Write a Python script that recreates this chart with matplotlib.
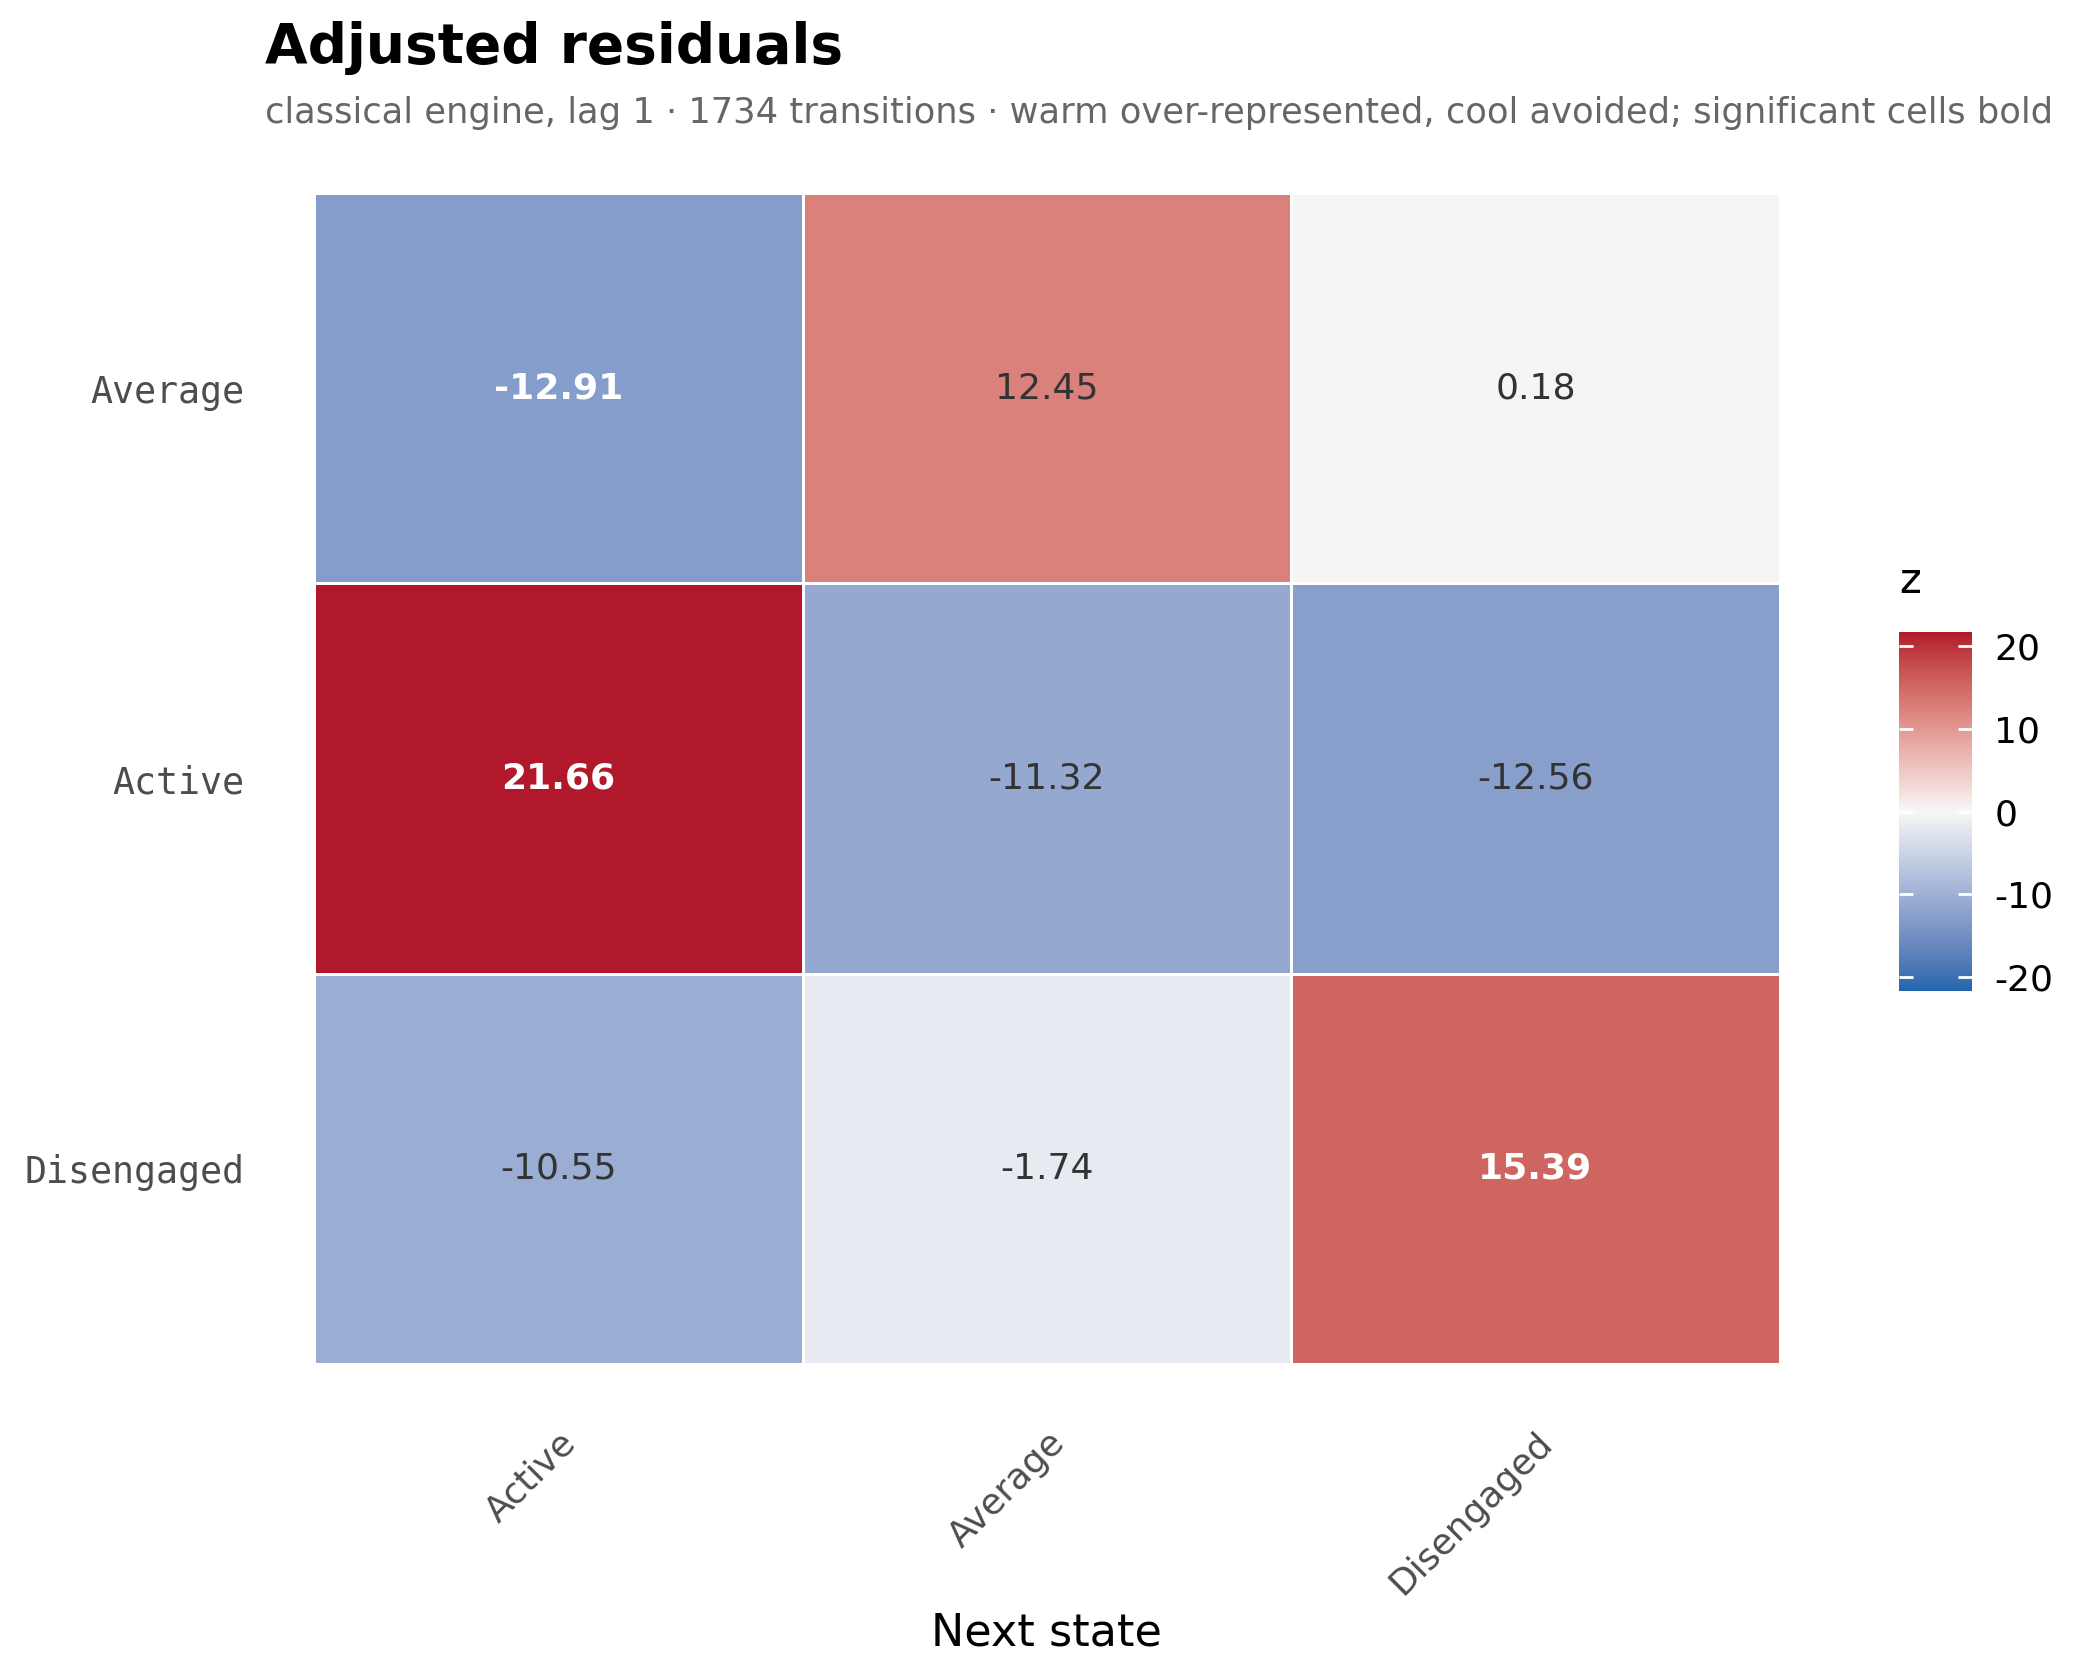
import matplotlib
matplotlib.use("Agg")
import matplotlib.pyplot as plt
from matplotlib.colors import ListedColormap, Normalize
import numpy as np

plt.rcParams["axes.unicode_minus"] = False

# data
from_states = ["Average", "Active", "Disengaged"]
next_states = ["Active", "Average", "Disengaged"]
z_values = [
    [-12.91, 12.45, 0.18],
    [21.66, -11.32, -12.56],
    [-10.55, -1.74, 15.39],
]
significant = [
    [True, False, False],
    [True, False, False],
    [False, False, True],
]
cbar_ticks = [-20, -10, 0, 10, 20]

title = "Adjusted residuals"
subtitle = ("classical engine, lag 1 \u00b7 1734 transitions \u00b7 warm over-represented, "
            "cool avoided; significant cells bold")


# diverging palette interpolated in Lab space (low / mid / high)
def hex_rgb(h):
    h = h.lstrip("#")
    return np.array([int(h[i:i + 2], 16) / 255 for i in (0, 2, 4)])


def rgb_to_lab(rgb):
    c = np.where(rgb > 0.04045, ((rgb + 0.055) / 1.055) ** 2.4, rgb / 12.92)
    m = np.array([[0.4124564, 0.3575761, 0.1804375],
                  [0.2126729, 0.7151522, 0.0721750],
                  [0.0193339, 0.1191920, 0.9503041]])
    xyz = m @ c / np.array([0.95047, 1.0, 1.08883])
    f = np.where(xyz > 0.008856, np.cbrt(xyz), 7.787 * xyz + 16 / 116)
    return np.array([116 * f[1] - 16, 500 * (f[0] - f[1]), 200 * (f[1] - f[2])])


def lab_to_rgb(lab):
    fy = (lab[0] + 16) / 116
    fx = fy + lab[1] / 500
    fz = fy - lab[2] / 200
    f = np.array([fx, fy, fz])
    xyz = np.where(f ** 3 > 0.008856, f ** 3, (f - 16 / 116) / 7.787)
    xyz = xyz * np.array([0.95047, 1.0, 1.08883])
    mi = np.array([[3.2404542, -1.5371385, -0.4985314],
                   [-0.9692660, 1.8760108, 0.0415560],
                   [0.0556434, -0.2040259, 1.0572252]])
    c = mi @ xyz
    c = np.where(c > 0.0031308, 1.055 * np.clip(c, 0, None) ** (1 / 2.4) - 0.055, 12.92 * c)
    return np.clip(c, 0, 1)


low, mid, high = (rgb_to_lab(hex_rgb(h)) for h in ("#2166AC", "#F7F7F7", "#B2182B"))
colors = []
for t in np.linspace(0, 1, 256):
    if t < 0.5:
        lab = low + (mid - low) * (t / 0.5)
    else:
        lab = mid + (high - mid) * ((t - 0.5) / 0.5)
    colors.append(lab_to_rgb(lab))
cmap = ListedColormap(colors)

z = np.array(z_values)
zmax = np.abs(z).max()
norm = Normalize(vmin=-zmax, vmax=zmax)

fig = plt.figure(figsize=(10.5, 8.4), dpi=200)
ax = fig.add_axes([0.1495, 0.1881, 0.698, 0.697])

mesh = ax.pcolormesh(np.arange(len(next_states) + 1), np.arange(len(from_states) + 1), z,
                     cmap=cmap, norm=norm, edgecolors="white", linewidth=1.0)
ax.set_xlim(0, len(next_states))
ax.set_ylim(len(from_states), 0)

for i in range(len(from_states)):
    for j in range(len(next_states)):
        if significant[i][j]:
            ax.text(j + 0.5, i + 0.5, f"{z[i, j]:.2f}", ha="center", va="center",
                    fontsize=13, fontweight="bold", color="white")
        else:
            ax.text(j + 0.5, i + 0.5, f"{z[i, j]:.2f}", ha="center", va="center",
                    fontsize=13, color="#333333")

for s in ax.spines.values():
    s.set_visible(False)

ax.set_xticks(np.arange(len(next_states)) + 0.5)
ax.set_xticklabels(next_states, rotation=45, ha="right", va="top", rotation_mode="anchor",
                   fontsize=13, color="#4D4D4D")
ax.set_yticks(np.arange(len(from_states)) + 0.5)
ax.set_yticklabels(from_states, fontsize=13.2, color="#4D4D4D", family="DejaVu Sans Mono")
ax.tick_params(axis="x", length=0, pad=22)
ax.tick_params(axis="y", length=0, pad=25)
ax.set_xlabel("Next state", fontsize=16, labelpad=4)

fig.text(265 / 2100, 1 - 48 / 1680, title, fontsize=19.8, fontweight="bold", va="center", ha="left")
fig.text(265 / 2100, 1 - 113 / 1680, subtitle, fontsize=12.7, color="#666666", va="center", ha="left")

cax = fig.add_axes([1899 / 2100, 1 - 991 / 1680, 73 / 2100, 359 / 1680])
cb = fig.colorbar(mesh, cax=cax, ticks=cbar_ticks)
cb.outline.set_visible(False)
cb.ax.tick_params(direction="in", color="white", length=5, width=1, left=True, right=True,
                  labelsize=13, pad=8)
cb.ax.set_title("z", fontsize=15, loc="left", pad=14)

fig.savefig("out.png", dpi=200, facecolor="white")
